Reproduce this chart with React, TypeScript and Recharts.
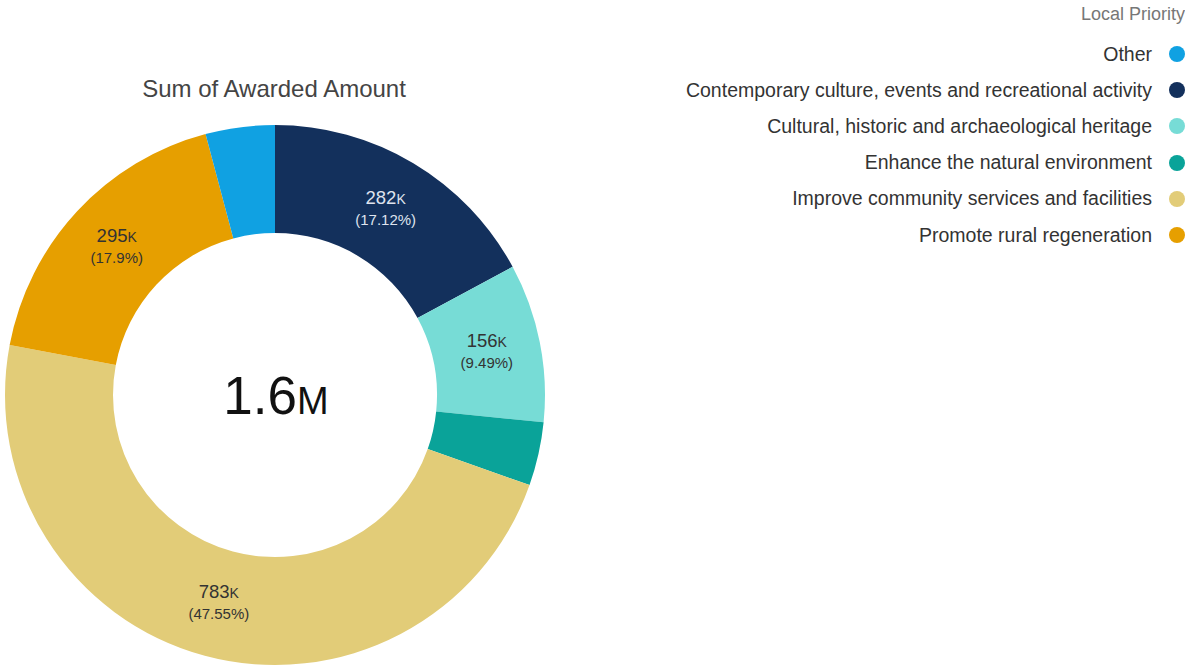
import React from 'react';
import { Legend, Pie, PieChart, Cell } from 'recharts';

// slices in drawing order, clockwise from 12 o'clock
const categories = [
  'Contemporary culture, events and recreational activity',
  'Cultural, historic and archaeological heritage',
  'Enhance the natural environment',
  'Improve community services and facilities',
  'Promote rural regeneration',
  'Other',
];
const amounts = [282000, 156300, 62600, 783100, 294800, 68200];
const colors = ['#13305c', '#77dcd6', '#0aa399', '#e2cc78', '#e69f00', '#10a1e2'];
// legend lists "Other" first
const legendOrder = [5, 0, 1, 2, 3, 4];

const data = categories.map((name, i) => ({ name, value: amounts[i], color: colors[i] }));
const total = amounts.reduce((a, b) => a + b, 0);

const FONT = '"Liberation Sans", Arial, sans-serif';
const RAD = Math.PI / 180;

function renderLabel(props: any) {
  const { cx, cy, midAngle, innerRadius, outerRadius, value, percent, index } = props;
  if (percent < 0.05) return null;
  const r = (innerRadius + outerRadius) / 2;
  const x = cx + r * Math.cos(-midAngle * RAD);
  const y = cy + r * Math.sin(-midAngle * RAD);
  const fill = index === 0 ? '#dfe3ee' : '#333333';
  const pct = parseFloat((percent * 100).toFixed(2));
  return (
    <text x={x} y={y} textAnchor='middle' fill={fill} fontFamily={FONT}>
      <tspan x={x} dy={-6} fontSize={18.5}>
        {Math.round(value / 1000)}
        <tspan fontSize={14}>K</tspan>
      </tspan>
      <tspan x={x} dy={21} fontSize={15}>
        ({pct}%)
      </tspan>
    </text>
  );
}

function LegendBox() {
  return (
    <div style={{ fontFamily: FONT, textAlign: 'right' }}>
      <div style={{ color: '#777', fontSize: 18, height: 22, marginTop: 4 }}>Local Priority</div>
      <div style={{ marginTop: 10 }}>
        {legendOrder.map((i) => (
          <div
            key={categories[i]}
            style={{ display: 'flex', justifyContent: 'flex-end', alignItems: 'center', height: 36.2, color: '#333', fontSize: 19.5 }}
          >
            <span>{categories[i]}</span>
            <span
              style={{
                display: 'inline-block',
                width: 16,
                height: 16,
                borderRadius: 8,
                background: colors[i],
                marginLeft: 17,
                marginRight: 0,
              }}
            />
          </div>
        ))}
      </div>
    </div>
  );
}

export default function App() {
  return (
    <div style={{ position: 'fixed', left: 0, top: 0, width: 1185, height: 668, background: '#fff', overflow: 'hidden' }}>
      <PieChart width={1185} height={668} margin={{ top: 0, right: 0, bottom: 0, left: 0 }}>
        <text x={274} y={97} textAnchor='middle' fontSize={24} fill='#444' fontFamily={FONT}>
          Sum of Awarded Amount
        </text>
        <Pie
          data={data}
          dataKey='value'
          nameKey='name'
          cx={275}
          cy={395}
          outerRadius={270}
          innerRadius={162}
          startAngle={90}
          endAngle={-270}
          stroke='none'
          label={renderLabel}
          labelLine={false}
          isAnimationActive={false}
        >
          {data.map((d) => (
            <Cell key={d.name} fill={d.color} />
          ))}
        </Pie>
        <text x={276} y={414} textAnchor='middle' fontSize={53} fill='#111' fontFamily={FONT}>
          {(total / 1e6).toFixed(1)}
          <tspan fontSize={38}>M</tspan>
        </text>
        <Legend
          content={() => <LegendBox />}
          wrapperStyle={{ position: 'absolute', top: 0, right: 0, left: 'auto', width: 'auto' }}
        />
      </PieChart>
    </div>
  );
}
